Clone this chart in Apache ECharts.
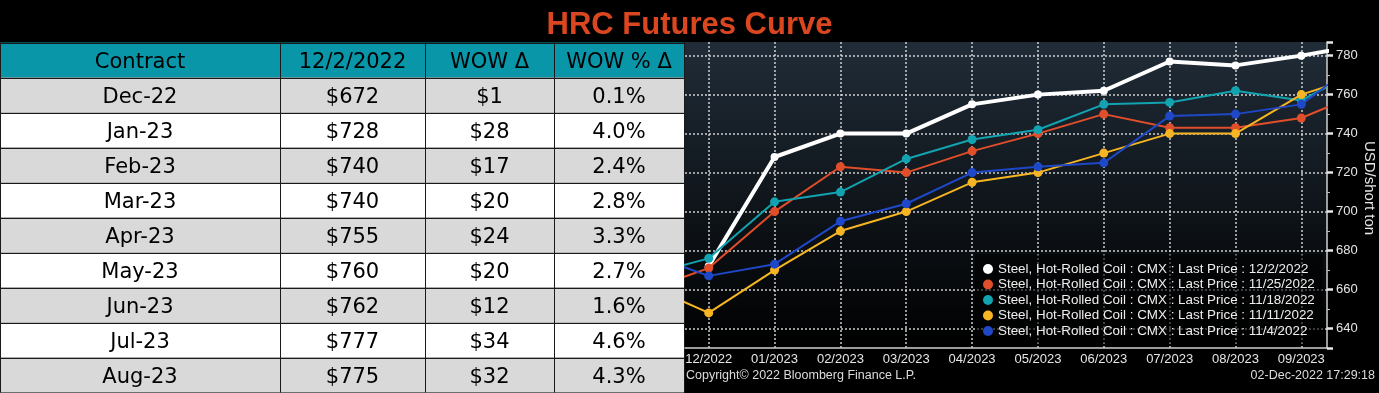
<!DOCTYPE html>
<html>
<head>
<meta charset="utf-8">
<script src="https://cdn.jsdelivr.net/npm/echarts@6/dist/echarts.min.js"></script>
<style>
html,body{margin:0;padding:0;background:#000;}
#chart{width:1379px;height:393px;}
</style>
</head>
<body>
<div id="chart"></div>
<script>
// ---- Table data ----
const tableHeaders = ['Contract', '12/2/2022', 'WOW \u0394', 'WOW % \u0394'];
const contracts = ['Dec-22', 'Jan-23', 'Feb-23', 'Mar-23', 'Apr-23', 'May-23', 'Jun-23', 'Jul-23', 'Aug-23'];
const prices = ['$672', '$728', '$740', '$740', '$755', '$760', '$762', '$777', '$775'];
const wowDelta = ['$1', '$28', '$17', '$20', '$24', '$20', '$12', '$34', '$32'];
const wowPct = ['0.1%', '4.0%', '2.4%', '2.8%', '3.3%', '2.7%', '1.6%', '4.6%', '4.3%'];

// ---- Curve data (contract months, first and last are partly off-screen) ----
const curveMonths = ['11/2022', '12/2022', '01/2023', '02/2023', '03/2023', '04/2023', '05/2023', '06/2023', '07/2023', '08/2023', '09/2023', '10/2023'];
const visibleMonthLabels = ['12/2022', '01/2023', '02/2023', '03/2023', '04/2023', '05/2023', '06/2023', '07/2023', '08/2023', '09/2023'];
const seriesNames = [
  'Steel, Hot-Rolled Coil : CMX : Last Price : 12/2/2022',
  'Steel, Hot-Rolled Coil : CMX : Last Price : 11/25/2022',
  'Steel, Hot-Rolled Coil : CMX : Last Price : 11/18/2022',
  'Steel, Hot-Rolled Coil : CMX : Last Price : 11/11/2022',
  'Steel, Hot-Rolled Coil : CMX : Last Price : 11/4/2022'
];
const curve1202 = [null, 672, 728, 740, 740, 755, 760, 762, 777, 775, 780, 786];
const curve1125 = [659, 671, 700, 723, 720, 731, 740, 750, 743, 743, 748, 762];
const curve1118 = [667, 676, 705, 710, 727, 737, 742, 755, 756, 762, 757, 775];
const curve1111 = [663, 648, 670, 690, 700, 715, 720, 730, 740, 740, 760, 771];
const curve1104 = [679, 667, 673, 695, 704, 720, 723, 725, 749, 750, 755, 780];
const yTickLabels = [640, 660, 680, 700, 720, 740, 760, 780];

const curves = [curve1202, curve1125, curve1118, curve1111, curve1104];
const colors = ['#ffffff', '#e04e2a', '#12a3b0', '#f6b523', '#1f48c8'];

// ---- Table layout (graphic) ----
const colEdges = [0, 280, 425, 554, 684];
const headerTop = 42.5, rowH = 35;
const tableFont = '21px "DejaVu Sans"';
const gfx = [];
function cellRow(values, y, fill) {
  gfx.push({type: 'rect', shape: {x: 0, y: y, width: colEdges[4], height: rowH}, style: {fill: fill}, silent: true});
  values.forEach(function (v, c) {
    const x0 = colEdges[c], x1 = colEdges[c + 1];
    gfx.push({type: 'text', x: (x0 + x1) / 2, y: y + rowH / 2 + 2.5,
      style: {text: v, font: tableFont, fill: '#000', align: 'center', verticalAlign: 'middle'}, silent: true});
  });
}
cellRow(tableHeaders, headerTop, '#0896a8');
contracts.forEach(function (c, i) {
  cellRow([c, prices[i], wowDelta[i], wowPct[i]], headerTop + rowH * (i + 1), i % 2 === 0 ? '#d9d9d9' : '#ffffff');
});
const tableBottom = headerTop + rowH * (contracts.length + 1);
for (let i = 0; i <= contracts.length + 1; i++) {
  const y = Math.round(headerTop + rowH * i) + 0.5;
  gfx.push({type: 'line', shape: {x1: 0, y1: y, x2: colEdges[4], y2: y}, style: {stroke: '#1a1a1a', lineWidth: 1}, silent: true});
}
colEdges.forEach(function (x) {
  gfx.push({type: 'line', shape: {x1: x + 0.5, y1: headerTop, x2: x + 0.5, y2: tableBottom}, style: {stroke: '#1a1a1a', lineWidth: 1}, silent: true});
});
gfx.push({type: 'text', left: 686, top: 369, style: {text: 'Copyright\u00a9 2022 Bloomberg Finance L.P.', font: '12.5px "Liberation Sans"', fill: '#dcdcdc'}, silent: true});
gfx.push({type: 'text', right: 4, top: 369, style: {text: '02-Dec-2022 17:29:18', font: '12.5px "Liberation Sans"', fill: '#dcdcdc'}, silent: true});

const chart = echarts.init(document.getElementById('chart'), null, {renderer: 'canvas'});
const option = {
  backgroundColor: '#000000',
  animation: false,
  title: {
    text: 'HRC Futures Curve', left: 'center', top: 10, padding: 0,
    textStyle: {color: '#d9461f', fontSize: 31, fontWeight: 'bold', fontFamily: '"Liberation Sans", Arial, sans-serif'}
  },
  grid: {
    left: 685, right: 52, top: 42, bottom: 45, show: true, borderWidth: 0,
    backgroundColor: {type: 'linear', x: 0, y: 0, x2: 0, y2: 1, colorStops: [
      {offset: 0, color: '#202c38'}, {offset: 0.5, color: '#10161c'}, {offset: 1, color: '#000000'}]}
  },
  legend: {
    orient: 'vertical', left: 975, top: 254.5, padding: [8, 8, 6, 8], itemGap: 2.5,
    itemWidth: 10, itemHeight: 10, icon: 'circle', selectedMode: false,
    backgroundColor: 'rgba(0,0,0,0.6)',
    textStyle: {color: '#eeeeee', fontSize: 13.4, fontFamily: '"Liberation Sans", Arial, sans-serif'},
    data: seriesNames
  },
  xAxis: {
    type: 'value', min: -0.36, max: 9.39, splitNumber: 10,
    axisLine: {onZero: false, lineStyle: {color: '#d0d0d0', width: 1.5}},
    axisTick: {show: false},
    axisLabel: {
      color: '#e6e6e6', fontSize: 13, margin: 5, fontFamily: '"Liberation Sans", Arial, sans-serif',
      showMinLabel: false, showMaxLabel: false,
      formatter: function (v) { return (Number.isInteger(v) && visibleMonthLabels[v]) ? visibleMonthLabels[v] : ''; }
    },
    splitLine: {show: true, showMinLine: false, showMaxLine: false, lineStyle: {color: 'rgba(225,225,225,0.9)', type: [2, 2], width: 1.5}}
  },
  yAxis: {
    type: 'value', position: 'right', min: 630, max: 787, splitNumber: 8,
    axisLine: {show: true, onZero: false, lineStyle: {color: '#d0d0d0', width: 1.5}},
    axisTick: {show: true, length: 6, lineStyle: {color: '#e6e6e6', width: 2.5}},
    minorTick: {show: true, splitNumber: 2, length: 3, lineStyle: {color: '#bdbdbd', width: 1}},
    axisLabel: {
      color: '#e6e6e6', fontSize: 13, margin: 9, fontFamily: '"Liberation Sans", Arial, sans-serif',
      formatter: function (v) { return yTickLabels.indexOf(v) >= 0 ? String(v) : ''; }
    },
    splitLine: {show: true, showMinLine: false, showMaxLine: false, lineStyle: {color: 'rgba(225,225,225,0.9)', type: [2, 2], width: 1.5}},
    name: 'USD/short ton', nameLocation: 'middle', nameRotate: -90, nameGap: 34,
    nameTextStyle: {color: '#e6e6e6', fontSize: 15, padding: [0, 14, 0, 0], fontFamily: '"Liberation Sans", Arial, sans-serif'}
  },
  series: curves.map(function (arr, k) {
    return {
      name: seriesNames[k], type: 'line', clip: true,
      symbol: 'circle', symbolSize: k === 0 ? 8 : 9, showSymbol: true,
      lineStyle: {color: colors[k], width: k === 0 ? 4 : 2},
      itemStyle: {color: colors[k]},
      data: arr.map(function (v, i) { return [i - 1, v]; }).filter(function (p) { return p[1] !== null; }),
      z: 2 + k
    };
  }),
  graphic: gfx
};
chart.setOption(option);
</script>
</body>
</html>
